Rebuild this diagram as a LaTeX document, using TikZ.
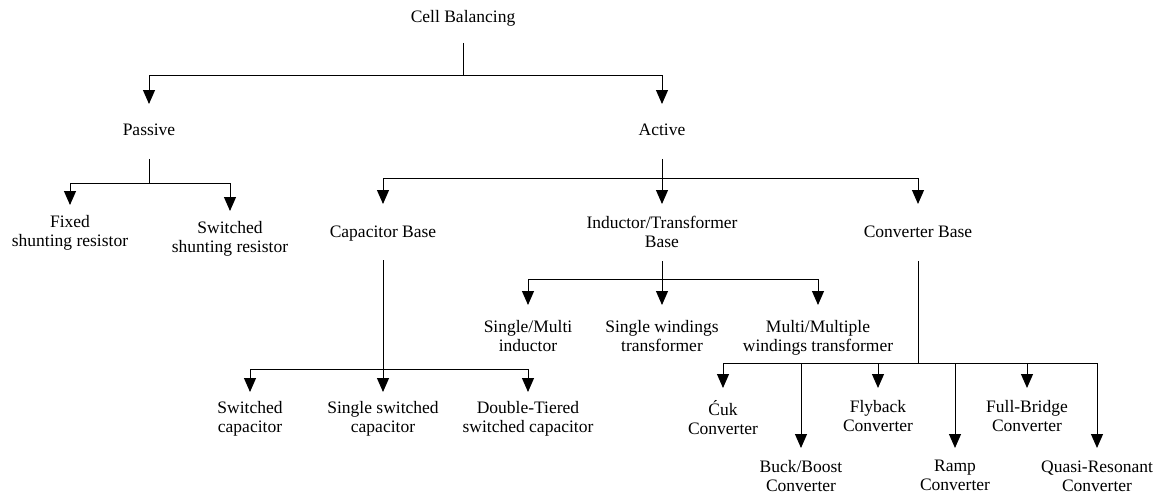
\documentclass[tikz,border=0pt]{standalone}
\usepackage{fontspec}
\setmainfont{Liberation Serif}
\usetikzlibrary{arrows.meta}

\begin{document}
\begin{tikzpicture}[x=1pt, y=-1pt, line width=1pt,
  font=\fontsize{17.5}{19}\selectfont,
  lbl/.style={anchor=north, align=center, inner sep=0pt},
  arr/.style={-{Triangle[length=14pt,width=12pt]}, shorten >=#1},
  arr/.default=12pt]

  \useasboundingbox (0,0) rectangle (1162,496);

  % coordinates
  \coordinate (b0) at (463,75);
  \coordinate (bP) at (149,183);
  \coordinate (bA) at (662,178);
  \coordinate (bC) at (383,369);
  \coordinate (bI) at (662,279);
  \coordinate (bV) at (918,363);

  % labels
  \node[lbl] (cell) at (463,10) {Cell Balancing};
  \node[lbl] (passive) at (149,123) {Passive};
  \node[lbl] (active) at (662,123) {Active};

  \node[lbl] (fixed) at (70,215) {Fixed\\shunting resistor};
  \node[lbl] (swres) at (230,221) {Switched\\shunting resistor};

  \node[lbl] (capbase) at (383,225) {Capacitor Base};
  \node[lbl] (indbase) at (662,216) {Inductor/Transformer\\Base};
  \node[lbl] (convbase) at (918,225) {Converter Base};

  \node[lbl] (swcap) at (250,401) {Switched\\capacitor};
  \node[lbl] (sswcap) at (383,401) {Single switched\\capacitor};
  \node[lbl] (dtcap) at (528,401) {Double-Tiered\\switched capacitor};

  \node[lbl] (smind) at (528,320) {Single/Multi\\inductor};
  \node[lbl] (swtr) at (662,320) {Single windings\\transformer};
  \node[lbl] (mwtr) at (818,320) {Multi/Multiple\\windings transformer};

  \node[lbl] (cuk) at (723,400) {Ćuk\\Converter};
  \node[lbl] (fly) at (878,400) {Flyback\\Converter};
  \node[lbl] (full) at (1027,400) {Full-Bridge\\Converter};
  \node[lbl] (buck) at (801,460) {Buck/Boost\\Converter};
  \node[lbl] (ramp) at (955,460) {Ramp\\Converter};
  \node[lbl] (quasi) at (1097,460) {Quasi-Resonant\\Converter};

  % edges
  \draw[shorten <=16pt] (cell) -- (b0);
  \foreach \n in {passive,active}
    \draw[arr=19pt] (b0) -| (\n);

  \draw[shorten <=23pt] (passive) -- (bP);
  \foreach \n in {fixed,swres}
    \draw[arr=10pt] (bP) -| (\n);

  \draw[shorten <=23pt] (active) -- (bA);
  \draw[arr=21pt] (bA) -| (capbase);
  \draw[arr=12pt] (bA) -- (indbase);
  \draw[arr=21pt] (bA) -| (convbase);

  \draw[shorten <=19pt] (capbase) -- (bC);
  \foreach \n in {swcap,sswcap,dtcap}
    \draw[arr=9pt] (bC) -| (\n);

  \draw[shorten <=13pt] (indbase) -- (bI);
  \foreach \n in {smind,swtr,mwtr}
    \draw[arr=15pt] (bI) -| (\n);

  \draw[shorten <=23pt] (convbase) -- (bV);
  \foreach \n in {cuk,fly,full,buck,ramp,quasi}
    \draw[arr=12pt] (bV) -| (\n);
\end{tikzpicture}
\end{document}
